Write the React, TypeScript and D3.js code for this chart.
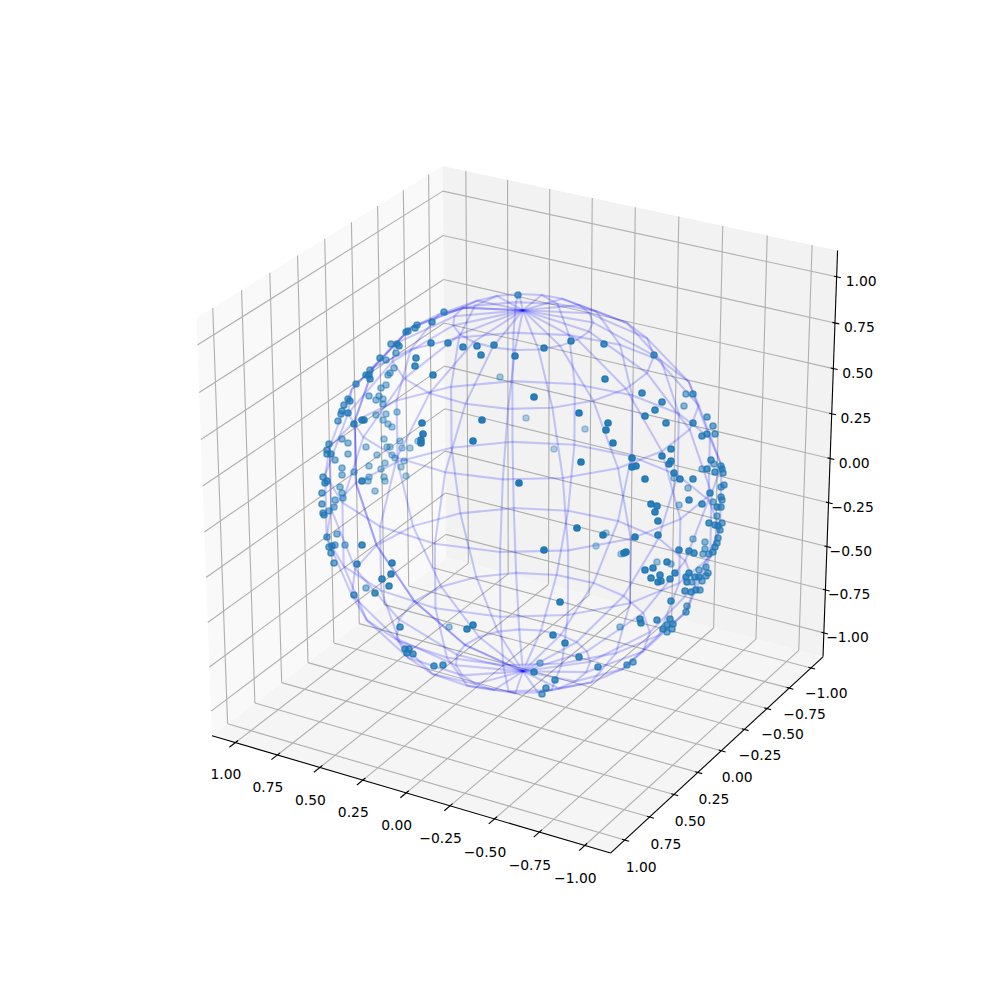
import React from "react";
import * as d3 from "d3";

// axis ticks, same on all three axes
const tickValues = [-1, -0.75, -0.5, -0.25, 0, 0.25, 0.5, 0.75, 1];

// wireframe grid of the unit sphere, degrees
const longitudes = [0, 18.95, 37.89, 56.84, 75.79, 94.74, 113.68, 132.63, 151.58, 170.53, 189.47, 208.42, 227.37, 246.32, 265.26, 284.21, 303.16, 322.11, 341.05, 360];
const colatitudes = [0, 20, 40, 60, 80, 100, 120, 140, 160, 180];

// scatter points, in the view plane of the sphere [right, up]
const frontPoints: [number, number][] = [
  [-0.395, 0.915], [-0.455, 0.865], [-0.53, 0.85], [-0.54, 0.835], [-0.575, 0.82], [-0.585, 0.815], [-0.375, 0.76], [-0.46, 0.76],
  [-0.66, 0.755], [-0.63, 0.755], [-0.62, 0.745], [-0.715, 0.685], [-0.535, 0.685], [-0.54, 0.645], [-0.45, 0.6], [-0.785, 0.6],
  [-0.77, 0.6], [-0.765, 0.58], [-0.835, 0.555], [-0.875, 0.48], [-0.865, 0.47], [-0.875, 0.41], [-0.845, 0.355], [-0.805, 0.375],
  [-0.795, 0.375], [-0.505, 0.36], [-0.025, 1.0], [-0.3, 0.74], [-0.23, 0.745], [-0.145, 0.75], [-0.21, 0.7], [-0.04, 0.695],
  [0.105, 0.735], [0.24, 0.77], [0.055, 0.49], [-0.205, 0.375], [0.28, 0.41], [0.405, 0.755], [0.655, 0.7], [0.41, 0.58],
  [0.595, 0.51], [0.695, 0.465], [0.66, 0.425], [0.61, 0.395], [0.715, 0.36], [0.85, 0.505], [0.92, 0.39], [0.85, 0.36],
  [0.425, 0.36], [0.415, 0.325], [-0.5, 0.305], [-0.51, 0.275], [-0.51, 0.26], [-0.97, 0.255], [-0.98, 0.225], [-0.98, 0.205],
  [-0.96, 0.205], [-0.805, 0.07], [-0.98, 0.07], [-0.99, 0.06], [-0.995, -0.1], [-0.955, -0.255], [-0.97, -0.26], [-0.805, -0.25],
  [-0.945, -0.34], [-0.83, -0.345], [-0.655, -0.34], [-0.25, 0.27], [0.29, 0.165], [-0.02, 0.06], [0.27, -0.165], [0.105, -0.275],
  [0.45, 0.26], [0.545, 0.185], [0.565, 0.145], [0.545, 0.14], [0.61, 0.08], [0.695, 0.195], [0.74, 0.23], [0.74, 0.17],
  [0.73, 0.155], [0.755, 0.11], [0.785, 0.08], [0.85, 0.08], [0.895, 0.295], [0.92, 0.305], [0.96, 0.305], [0.94, 0.175],
  [0.92, 0.13], [0.96, 0.115], [1.0, 0.11], [0.935, 0.01], [0.99, -0.01], [0.83, -0.025], [0.895, -0.045], [0.64, -0.045],
  [0.67, -0.055], [0.66, -0.085], [0.97, -0.06], [0.99, -0.06], [0.675, -0.13], [0.93, -0.14], [0.96, -0.15], [0.975, -0.155],
  [0.995, -0.14], [0.985, -0.175], [0.4, -0.2], [0.56, -0.21], [0.675, -0.2], [0.975, -0.215], [0.97, -0.24], [0.96, -0.26],
  [0.78, -0.275], [0.83, -0.28], [0.855, -0.29], [0.95, -0.285], [0.505, -0.29], [0.515, -0.285], [0.72, -0.335], [0.61, -0.375],
  [0.65, -0.365], [-0.66, -0.395], [-0.705, -0.42], [-0.67, -0.455], [-0.74, -0.49], [-0.845, -0.5], [-0.615, -0.66], [-0.59, -0.77],
  [-0.58, -0.79], [-0.445, -0.855], [-0.4, -0.85], [-0.57, -0.77], [-0.55, -0.795], [-0.28, -0.67], [-0.25, -0.65], [0.185, -0.535],
  [0.15, -0.7], [0.21, -0.74], [0.28, -0.81], [0.055, -0.885], [0.16, -0.925], [0.115, -0.965], [0.095, -0.995], [0.685, -0.4],
  [0.64, -0.415], [0.675, -0.435], [0.69, -0.43], [0.735, -0.42], [0.76, -0.39], [0.815, -0.41], [0.83, -0.39], [0.82, -0.435],
  [0.86, -0.41], [0.88, -0.41], [0.81, -0.48], [0.84, -0.485], [0.865, -0.475], [0.74, -0.53], [0.67, -0.625], [0.585, -0.62],
  [0.59, -0.64], [0.735, -0.62], [0.75, -0.645], [0.72, -0.65], [0.7, -0.67], [0.745, -0.67], [0.52, -0.85], [0.55, -0.835],
  [0.375, -0.86],
];
const backPoints: [number, number][] = [
  [-0.635, 0.71], [-0.685, 0.675], [-0.645, 0.635], [-0.665, 0.61], [-0.675, 0.6], [-0.765, 0.625], [-0.685, 0.55], [-0.71, 0.535],
  [-0.77, 0.495], [-0.72, 0.495], [-0.735, 0.475], [-0.7, 0.48], [-0.7, 0.455], [-0.895, 0.45], [-0.905, 0.42], [-0.91, 0.405],
  [-0.925, 0.37], [-0.735, 0.4], [-0.685, 0.405], [-0.63, 0.415], [-0.7, 0.375], [-0.675, 0.355], [-0.655, 0.34], [-0.115, 0.59],
  [0.015, 0.385], [0.31, 0.33], [0.815, 0.505], [0.805, 0.445], [0.95, 0.345], [-0.525, 0.27], [-0.905, 0.28], [-0.875, 0.26],
  [-0.94, 0.175], [-0.785, 0.24], [-0.695, 0.28], [-0.68, 0.24], [-0.665, 0.24], [-0.615, 0.27], [-0.605, 0.235], [-0.565, 0.235],
  [-0.655, 0.2], [-0.64, 0.185], [-0.875, 0.205], [-0.73, 0.2], [-0.595, 0.17], [-0.69, 0.16], [-0.77, 0.145], [-0.71, 0.13],
  [-0.61, 0.14], [-0.905, 0.135], [-0.905, 0.1], [-0.845, 0.115], [-0.585, 0.095], [-1.0, 0.09], [-0.695, 0.09], [-0.69, 0.07],
  [-0.77, 0.09], [-0.775, 0.07], [-0.915, 0.04], [-0.74, 0.02], [-1.005, 0.01], [-0.905, 0.01], [-0.9, -0.015], [-0.94, -0.025],
  [-1.005, -0.045], [-0.945, -0.06], [-1.0, -0.09], [-0.97, -0.08], [-0.98, -0.21], [-0.93, -0.195], [-0.94, -0.25], [-0.89, -0.25],
  [-0.96, -0.29], [0.155, 0.23], [0.755, 0.085], [0.825, 0.035], [0.955, 0.155], [0.99, 0.145], [0.895, 0.13], [0.995, 0.13],
  [1.005, 0.05], [0.99, 0.04], [0.995, -0.025], [0.95, -0.035], [0.78, -0.05], [0.97, -0.105], [0.415, -0.19], [0.365, -0.255],
  [0.85, -0.22], [0.91, -0.235], [0.91, -0.27], [0.9, -0.295], [0.93, -0.295], [0.49, -0.295], [0.67, -0.335], [0.74, -0.345],
  [0.915, -0.36], [0.88, -0.375], [-0.785, -0.465], [-0.37, -0.66], [0.085, -0.84], [0.925, -0.39], [0.915, -0.405], [0.895, -0.43],
  [0.845, -0.435], [0.885, -0.475], [0.82, -0.555], [0.815, -0.585], [0.72, -0.685], [0.485, -0.66],
];

type Vec = [number, number, number];

const LIM = 1.095; // data limits of the 3d box
const PANE = LIM * (1 + 1 / 24); // panes sit a bit outside the limits
const DIST = 10;
const ELEV = (26 * Math.PI) / 180;
const AZIM = (120 * Math.PI) / 180;
const ASPECT = 1.8294640721620434 / Math.sqrt(3);
const TICK_STEP = (2 * LIM) / 12;

// 2d view limits of a mplot3d axes, square box of 770px
const screenX = d3.scaleLinear().domain([-0.095, 0.09]).range([127.5, 897.5]);
const screenY = d3.scaleLinear().domain([-0.095, 0.09]).range([890, 120]);

const worldScale = d3.scaleLinear().domain([-LIM, LIM]).range([-ASPECT / 2, ASPECT / 2]);

const dot = (a: Vec, b: Vec) => a[0] * b[0] + a[1] * b[1] + a[2] * b[2];
const viewDir: Vec = [Math.cos(ELEV) * Math.cos(AZIM), Math.cos(ELEV) * Math.sin(AZIM), Math.sin(ELEV)];
const viewRight: Vec = [-Math.sin(AZIM), Math.cos(AZIM), 0];
const viewUp: Vec = [
  viewDir[1] * viewRight[2] - viewDir[2] * viewRight[1],
  viewDir[2] * viewRight[0] - viewDir[0] * viewRight[2],
  viewDir[0] * viewRight[1] - viewDir[1] * viewRight[0],
];

function project(p: Vec): [number, number] {
  const w: Vec = [worldScale(p[0]), worldScale(p[1]), worldScale(p[2])];
  const d = DIST - dot(viewDir, w);
  return [screenX(dot(viewRight, w) / d), screenY(dot(viewUp, w) / d)];
}

const pathOf = d3.line<Vec>().x((p) => project(p)[0]).y((p) => project(p)[1]);

const spherePoint = (lon: number, colat: number): Vec => {
  const a = (lon * Math.PI) / 180;
  const c = (colat * Math.PI) / 180;
  return [Math.cos(a) * Math.sin(c), Math.sin(a) * Math.sin(c), Math.cos(c)];
};

// scatter is placed straight on the view plane, 1 unit = 200px around the sphere centre
const planeX = d3.scaleLinear().domain([-1, 1]).range([323, 723]);
const planeY = d3.scaleLinear().domain([-1, 1]).range([695, 295]);
const shade = d3.scaleLinear().domain([-1, 1]).range([0.3, 1]);

const depthOf = ([u, v]: [number, number], side: number) => side * Math.sqrt(Math.max(0, 1 - u * u - v * v));
const scatter = [
  ...frontPoints.map((p) => ({ p, depth: depthOf(p, 1) })),
  ...backPoints.map((p) => ({ p, depth: depthOf(p, -1) })),
].sort((a, b) => a.depth - b.depth);

const fmt = d3.format(".2f");

const GRID = "#b0b0b0";
const FONT = "'DejaVu Sans', sans-serif";

export default function App() {
  const P = PANE;
  const seg = (a: Vec, b: Vec, key: string, stroke: string, w = 1.11) => (
    <path key={key} d={pathOf([a, b]) as string} stroke={stroke} strokeWidth={w} fill="none" />
  );
  const wall = (pts: Vec[], fill: string, key: string) => (
    <path key={key} d={(pathOf(pts) as string) + "Z"} fill={fill} stroke="none" />
  );
  const label = (pos: Vec, text: string, key: string, drop: number) => {
    const [x, y] = project(pos);
    return (
      <text key={key} x={x} y={y + drop} textAnchor="middle" dominantBaseline="central" fontFamily={FONT} fontSize={13.89} fill="#000">
        {text}
      </text>
    );
  };
  // tick lengths come out about the same in pixels on every axis
  const outX = TICK_STEP * 0.3;
  const inX = TICK_STEP * 0.13;
  const out = TICK_STEP * 0.13;
  const inn = TICK_STEP * 0.08;
  const lab = TICK_STEP * 0.5;

  return (
    <svg width={1000} height={1000} style={{ position: "absolute", left: 0, top: 0, background: "#fff" }}>
      {/* panes */}
      {wall([[P, P, -P], [P, -P, -P], [P, -P, P], [P, P, P]], "#f9f9f9", "px")}
      {wall([[P, -P, -P], [-P, -P, -P], [-P, -P, P], [P, -P, P]], "#f2f2f2", "py")}
      {wall([[P, P, -P], [P, -P, -P], [-P, -P, -P], [-P, P, -P]], "#f5f5f5", "pz")}

      {/* grid */}
      {tickValues.map((t) => (
        <g key={t}>
          {seg([t, -P, -P], [t, -P, P], "gxa", GRID)}
          {seg([t, -P, -P], [t, P, -P], "gxb", GRID)}
          {seg([P, t, -P], [P, t, P], "gya", GRID)}
          {seg([P, t, -P], [-P, t, -P], "gyb", GRID)}
          {seg([P, -P, t], [P, P, t], "gza", GRID)}
          {seg([P, -P, t], [-P, -P, t], "gzb", GRID)}
        </g>
      ))}

      {/* axis lines */}
      {seg([-P, P, -P], [P, P, -P], "ax", "#000")}
      {seg([-P, -P, -P], [-P, P, -P], "ay", "#000")}
      {seg([-P, -P, -P], [-P, -P, P], "az", "#000")}

      {/* ticks and labels */}
      {tickValues.map((t) => (
        <g key={t}>
          {seg([t, P - inX, -P], [t, P + outX, -P], "tx", "#000")}
          {seg([-P - out, t, -P], [-P + inn, t, -P], "ty", "#000")}
          {seg([-P - out, -P, t], [-P + inn, -P, t], "tz", "#000")}
          {label([t, P + lab, -P - lab], fmt(t), "lx", 8)}
          {label([-P - lab, t, -P - lab], fmt(t), "ly", 5.5)}
          {label([-P - lab, -P - lab, t], fmt(t), "lz", 7)}
        </g>
      ))}

      {/* wireframe */}
      <g fill="none" stroke="#0000ff" strokeOpacity={0.2} strokeWidth={2.08}>
        {colatitudes.map((c) => (
          <path key={"r" + c} d={pathOf(longitudes.map((l) => spherePoint(l, c))) as string} />
        ))}
        {longitudes.map((l) => (
          <path key={"m" + l} d={pathOf(colatitudes.map((c) => spherePoint(l, c))) as string} />
        ))}
      </g>

      {/* scatter, far points first */}
      {scatter.map((d, i) => (
        <circle
          key={i}
          cx={planeX(d.p[0])}
          cy={planeY(d.p[1])}
          r={3.1}
          fill="#1f77b4"
          stroke="#1f77b4"
          strokeWidth={1.5}
          fillOpacity={shade(d.depth)}
          strokeOpacity={shade(d.depth)}
        />
      ))}
    </svg>
  );
}
